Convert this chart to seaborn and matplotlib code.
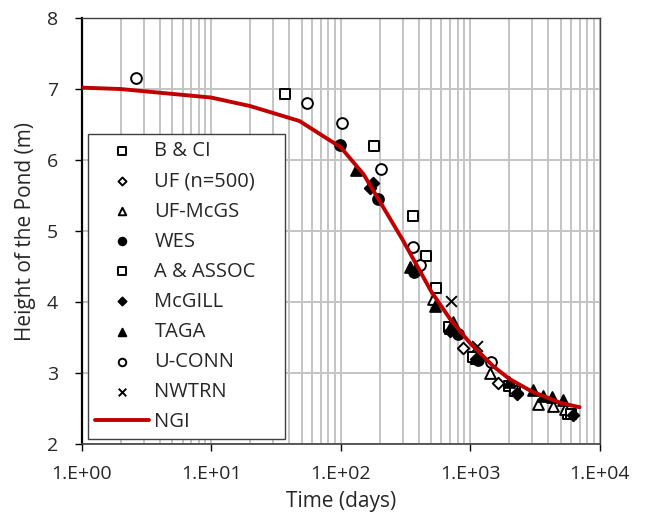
import numpy as np
import pandas as pd
import seaborn as sns
import matplotlib.pyplot as plt
from matplotlib.ticker import LogLocator, FuncFormatter, NullFormatter

# ── series (time in days, height in m) ───────────────────────────────────
series_order = ["B & CI", "UF (n=500)", "UF-McGS", "WES", "A & ASSOC",
                "McGILL", "TAGA", "U-CONN", "NWTRN"]

bci_t = [37, 182, 361, 548, 700, 1100, 2000, 5700]
bci_h = [6.93, 6.20, 5.21, 4.20, 3.62, 3.20, 2.82, 2.43]

uf500_t = [880, 1640, 2300]
uf500_h = [3.36, 2.86, 2.70]

ufmcgs_t = [517, 1420, 3340, 4360, 5400]
ufmcgs_h = [4.04, 3.00, 2.56, 2.53, 2.50]

wes_t = [98, 194, 370, 800, 1150]
wes_h = [6.21, 5.45, 4.43, 3.55, 3.18]

aassoc_t = [453, 680, 1050, 2200, 6000]
aassoc_h = [4.65, 3.65, 3.22, 2.75, 2.42]

mcgill_t = [167, 178, 380, 700, 1100, 2300, 6200]
mcgill_h = [5.60, 5.68, 4.45, 3.60, 3.20, 2.72, 2.41]

taga_t = [132, 340, 532, 735, 2000, 3050, 3650, 4300, 5200]
taga_h = [5.86, 4.50, 3.94, 3.72, 2.88, 2.76, 2.68, 2.66, 2.62]

uconn_t = [2.64, 55, 102, 206, 361, 407, 1450]
uconn_h = [7.16, 6.81, 6.52, 5.87, 4.78, 4.52, 3.15]

nwtrn_t = [716, 1120]
nwtrn_h = [4.02, 3.38]

ngi_t = [1, 2, 10, 20, 48, 100, 150, 200, 300, 400, 500, 700,
         1000, 1500, 2000, 3000, 5000, 7000]
ngi_h = [7.02, 7.00, 6.88, 6.76, 6.55, 6.18, 5.80, 5.42, 4.88, 4.47, 4.15, 3.76,
         3.42, 3.10, 2.92, 2.74, 2.58, 2.52]

# marker, filled?
marker_style = {
    "B & CI":     ("s", False),
    "UF (n=500)": ("D", False),
    "UF-McGS":    ("^", False),
    "WES":        ("o", True),
    "A & ASSOC":  ("s", False),
    "McGILL":     ("D", True),
    "TAGA":       ("^", True),
    "U-CONN":     ("o", False),
    "NWTRN":      ("x", True),
}
marker_size = {"s": 60, "D": 34, "^": 60, "o": 60, "x": 60}

raw = {
    "B & CI": (bci_t, bci_h), "UF (n=500)": (uf500_t, uf500_h),
    "UF-McGS": (ufmcgs_t, ufmcgs_h), "WES": (wes_t, wes_h),
    "A & ASSOC": (aassoc_t, aassoc_h), "McGILL": (mcgill_t, mcgill_h),
    "TAGA": (taga_t, taga_h), "U-CONN": (uconn_t, uconn_h),
    "NWTRN": (nwtrn_t, nwtrn_h),
}

records = []
for name in series_order:
    t, h = raw[name]
    for ti, hi in zip(t, h):
        records.append({"source": name, "time": ti, "height": hi})
df = pd.DataFrame(records)
ngi = pd.DataFrame({"time": ngi_t, "height": ngi_h})

sns.set_style("white")
plt.rcParams["font.family"] = ["Open Sans", "DejaVu Sans"]

fig = plt.figure(figsize=(6.49, 5.30), dpi=100)
ax = fig.add_axes([0.126, 0.162, 0.798, 0.804])

# ── scatter per lab ──────────────────────────────────────────────────────
for name in series_order:
    m, filled = marker_style[name]
    sub = df[df["source"] == name]
    kw = dict(facecolor="black" if filled else "white", edgecolor="black")
    if m == "x":
        kw = dict(color="black")
    sns.scatterplot(data=sub, x="time", y="height", marker=m, s=marker_size[m],
                    linewidth=1.4, ax=ax, label=name, zorder=3, **kw)

# ── NGI prediction on top ────────────────────────────────────────────────
sns.lineplot(data=ngi, x="time", y="height", color="#c00000", linewidth=2.8,
             ax=ax, label="NGI", zorder=4)

ax.set_xscale("log")
ax.set_xlim(1, 1e4)
ax.set_ylim(2, 8)
ax.set_yticks(range(2, 9))
ax.xaxis.set_major_locator(LogLocator(base=10, numticks=10))
ax.xaxis.set_minor_locator(LogLocator(base=10, subs=np.arange(2, 10), numticks=100))
ax.xaxis.set_major_formatter(FuncFormatter(lambda v, p: "1.E+%02d" % round(np.log10(v))))
ax.xaxis.set_minor_formatter(NullFormatter())

ax.grid(True, which="both", axis="x", color="#c4c4c4", linewidth=1.4)
ax.grid(True, which="major", axis="y", color="#c4c4c4", linewidth=1.4)
ax.set_axisbelow(True)

ax.tick_params(axis="both", which="major", direction="out", length=5, width=1,
               color="black", labelsize=14, bottom=True, left=True)
ax.tick_params(axis="x", which="major", pad=10)
ax.tick_params(axis="y", which="major", pad=12)
ax.tick_params(axis="x", which="minor", length=0)

for side in ["top", "right"]:
    ax.spines[side].set_color("#404040")
    ax.spines[side].set_linewidth(1.0)
ax.spines["left"].set_color("black")
ax.spines["left"].set_linewidth(1.6)
ax.spines["bottom"].set_color("#404040")
ax.spines["bottom"].set_linewidth(1.2)

ax.set_xlabel("Time (days)", fontsize=15, labelpad=6)
ax.set_ylabel("Height of the Pond (m)", fontsize=15, labelpad=8)

handles, labels = ax.get_legend_handles_labels()
leg = ax.legend(handles, labels, loc="upper left",
                bbox_to_anchor=(0.012, 0.0, 0.38, 0.727), mode="expand",
                fontsize=14.5, frameon=True, fancybox=False, edgecolor="#404040",
                framealpha=1, markerscale=0.7, handlelength=2.7,
                labelspacing=0.5, borderpad=0.35, handletextpad=0.25,
                borderaxespad=0)
leg.get_frame().set_linewidth(1.0)

fig.savefig("out.png", dpi=100)
